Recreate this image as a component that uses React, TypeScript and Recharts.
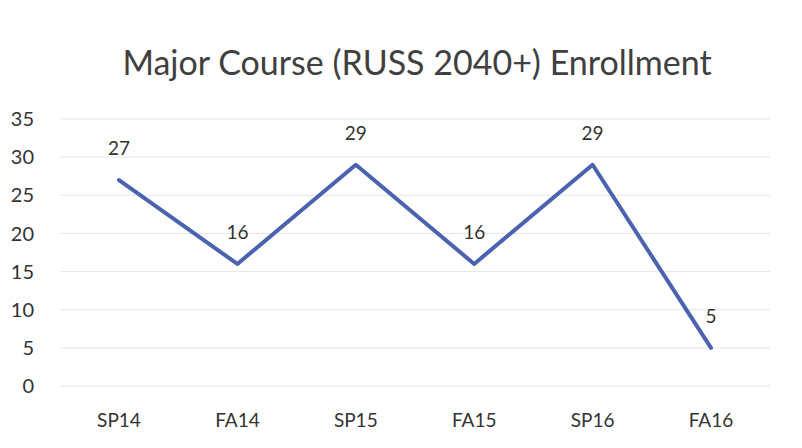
import React from "react";
import { LineChart, Line, XAxis, YAxis, CartesianGrid, LabelList } from "recharts";

const terms = ["SP14", "FA14", "SP15", "FA15", "SP16", "FA16"];
const enrollment = [27, 16, 29, 16, 29, 5];
const yTicks = [0, 5, 10, 15, 20, 25, 30, 35];

const chartData = terms.map((term, i) => ({ term, value: enrollment[i] }));

const font = "Lato, 'Noto Sans', sans-serif";

export default function App() {
  return (
    <div style={{ position: "absolute", left: 0, top: 0, width: 802, height: 448, background: "#fff", fontFamily: font }}>
      <div
        style={{
          position: "absolute",
          left: 0,
          width: 834,
          top: 41,
          textAlign: "center",
          fontSize: 34,
          color: "#404040",
        }}
      >
        Major Course (RUSS 2040+) Enrollment
      </div>
      <LineChart width={802} height={448} data={chartData} margin={{ top: 119, right: 32, bottom: 0, left: 0 }}>
        <CartesianGrid vertical={false} stroke="#e6e6e6" />
        <XAxis
          dataKey="term"
          axisLine={false}
          tickLine={false}
          height={62}
          padding={{ left: 59, right: 59 }}
          tick={{ fill: "#333", fontSize: 19, fontFamily: font, dy: 20 }}
        />
        <YAxis
          domain={[0, 35]}
          ticks={yTicks}
          axisLine={false}
          tickLine={false}
          width={60}
          tick={{ fill: "#333", fontSize: 20, fontFamily: font, dx: -18 }}
        />
        <Line
          dataKey="value"
          stroke="#4a62b0"
          strokeWidth={4}
          dot={false}
          isAnimationActive={false}
          strokeLinejoin="round"
          strokeLinecap="round"
        >
          <LabelList dataKey="value" position="top" offset={25} fill="#333" fontSize={19} fontFamily={font} />
        </Line>
      </LineChart>
    </div>
  );
}
